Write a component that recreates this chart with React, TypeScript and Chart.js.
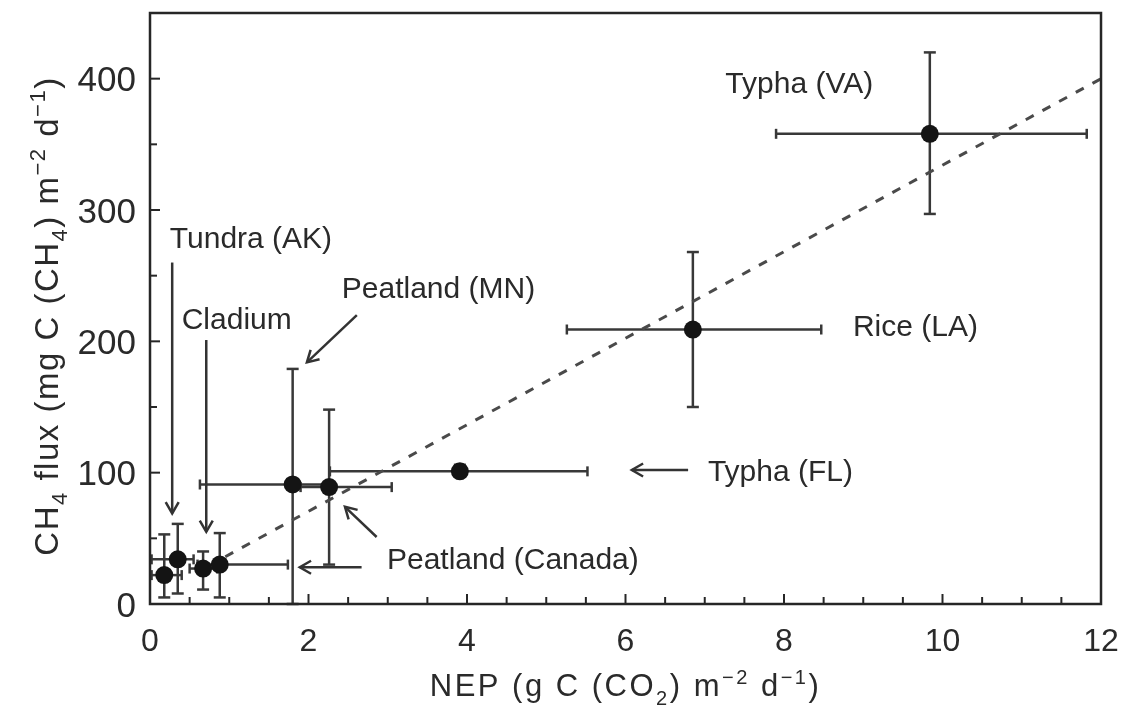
import React, { useEffect, useRef } from 'react';
import { Chart, registerables } from 'chart.js';

Chart.register(...registerables);

// ---- Data ----
const siteNames = [
  'Tundra (AK) 1',
  'Tundra (AK) 2',
  'Cladium 1',
  'Cladium 2',
  'Peatland (MN)',
  'Peatland (Canada)',
  'Typha (FL)',
  'Rice (LA)',
  'Typha (VA)',
];
const nepValues = [0.18, 0.35, 0.67, 0.88, 1.8, 2.26, 3.91, 6.85, 9.84];
const nepLow = [0.02, 0.02, 0.5, 0.6, 0.63, 1.9, 2.27, 5.26, 7.9];
const nepHigh = [0.4, 0.55, 0.85, 1.74, 2.3, 3.05, 5.52, 8.47, 11.82];
const ch4Values = [22, 34, 27, 30, 91, 89, 101, 209, 358];
const ch4Low = [5, 8, 11, 5, 0, 30, 97, 150, 297];
const ch4High = [53, 61, 40, 54, 179, 148, 106, 268, 420];

// dashed regression line end points
const fitLineX = [0.95, 12];
const fitLineY = [36, 400];

// axis ticks
const xTickValues = [0, 2, 4, 6, 8, 10, 12];
const xTickLabels = ['0', '2', '4', '6', '8', '10', '12'];
const yTickValues = [0, 100, 200, 300, 400];
const yTickLabels = ['0', '100', '200', '300', '400'];

// annotation texts (data coordinates of left edge / vertical middle)
const noteTexts = ['Typha (VA)', 'Rice (LA)', 'Typha (FL)', 'Tundra (AK)', 'Cladium', 'Peatland (MN)', 'Peatland (Canada)'];
const noteX = [7.26, 8.87, 7.04, 0.25, 0.4, 2.42, 2.99];
const noteY = [395, 210, 100, 277, 216, 239, 33];

// annotation arrows (tail -> head), data coordinates
const arrowFromX = [0.28, 0.71, 2.61, 6.79, 2.86, 2.67];
const arrowFromY = [260, 201, 220, 102, 51, 28];
const arrowToX = [0.28, 0.71, 1.98, 6.08, 2.46, 1.89];
const arrowToY = [69, 55, 184, 102, 74, 28];

const FONT = '"Liberation Sans", Arial, Helvetica, sans-serif';
const INK = '#2a2a2a';

type Seg = { t: string; k: 'n' | 'sub' | 'sup' };

const xTitle: Seg[] = [
  { t: 'NEP (g C (CO', k: 'n' },
  { t: '2', k: 'sub' },
  { t: ') m', k: 'n' },
  { t: '\u22122', k: 'sup' },
  { t: ' d', k: 'n' },
  { t: '\u22121', k: 'sup' },
  { t: ')', k: 'n' },
];
const yTitle: Seg[] = [
  { t: 'CH', k: 'n' },
  { t: '4', k: 'sub' },
  { t: ' flux (mg C (CH', k: 'n' },
  { t: '4', k: 'sub' },
  { t: ') m', k: 'n' },
  { t: '\u22122', k: 'sup' },
  { t: ' d', k: 'n' },
  { t: '\u22121', k: 'sup' },
  { t: ')', k: 'n' },
];

function setSpacing(ctx: any, px: number) {
  if ('letterSpacing' in ctx) ctx.letterSpacing = px + 'px';
}

function drawRich(ctx: CanvasRenderingContext2D, segs: Seg[], cx: number, baseline: number, size: number, spacing: number) {
  const small = Math.round(size * 0.66);
  const fontFor = (k: string) => `${k === 'n' ? size : small}px ${FONT}`;
  setSpacing(ctx, spacing);
  let total = 0;
  const widths: number[] = [];
  for (const s of segs) {
    ctx.font = fontFor(s.k);
    const w = ctx.measureText(s.t).width;
    widths.push(w);
    total += w;
  }
  let x = cx - total / 2;
  ctx.textAlign = 'left';
  ctx.textBaseline = 'alphabetic';
  segs.forEach((s, i) => {
    ctx.font = fontFor(s.k);
    const dy = s.k === 'sub' ? size * 0.28 : s.k === 'sup' ? -size * 0.4 : 0;
    ctx.fillText(s.t, x, baseline + dy);
    x += widths[i];
  });
  setSpacing(ctx, 0);
}

function line(ctx: CanvasRenderingContext2D, x1: number, y1: number, x2: number, y2: number) {
  ctx.beginPath();
  ctx.moveTo(x1, y1);
  ctx.lineTo(x2, y2);
  ctx.stroke();
}

const errorBarPlugin = {
  id: 'errorBars',
  beforeDatasetsDraw(chart: any) {
    const { ctx } = chart;
    const xs = chart.scales.x;
    const ys = chart.scales.y;
    ctx.save();
    ctx.strokeStyle = '#383838';
    ctx.lineWidth = 2.5;
    ctx.lineCap = 'butt';
    for (let i = 0; i < nepValues.length; i++) {
      const px = xs.getPixelForValue(nepValues[i]);
      const py = ys.getPixelForValue(ch4Values[i]);
      const xl = xs.getPixelForValue(nepLow[i]);
      const xr = xs.getPixelForValue(nepHigh[i]);
      line(ctx, xl, py, xr, py);
      line(ctx, xl, py - 5, xl, py + 5);
      line(ctx, xr, py - 5, xr, py + 5);
      const yt = ys.getPixelForValue(ch4High[i]);
      const yb = ys.getPixelForValue(ch4Low[i]);
      line(ctx, px, yt, px, yb);
      line(ctx, px - 6, yt, px + 6, yt);
      line(ctx, px - 6, yb, px + 6, yb);
    }
    ctx.restore();
  },
};

const decorPlugin = {
  id: 'decor',
  afterDatasetsDraw(chart: any) {
    const { ctx, chartArea } = chart;
    const xs = chart.scales.x;
    const ys = chart.scales.y;
    const { left, right, top, bottom } = chartArea;
    ctx.save();

    // frame
    ctx.strokeStyle = '#262626';
    ctx.lineWidth = 2.5;
    ctx.strokeRect(left, top, right - left, bottom - top);

    // ticks (inward)
    ctx.lineWidth = 2;
    xs.ticks.forEach((t: any) => {
      const px = xs.getPixelForValue(t.value);
      const len = xTickValues.includes(t.value) ? 10 : 7;
      line(ctx, px, bottom, px, bottom - len);
    });
    ys.ticks.forEach((t: any) => {
      const py = ys.getPixelForValue(t.value);
      const len = yTickValues.includes(t.value) ? 10 : 7;
      line(ctx, left, py, left + len, py);
    });

    // tick labels
    ctx.fillStyle = INK;
    ctx.font = `35px ${FONT}`;
    ctx.textAlign = 'right';
    ctx.textBaseline = 'alphabetic';
    yTickValues.forEach((v, i) => {
      ctx.fillText(yTickLabels[i], left - 14, ys.getPixelForValue(v) + 12.5);
    });
    ctx.font = `32px ${FONT}`;
    ctx.textAlign = 'center';
    xTickValues.forEach((v, i) => {
      ctx.fillText(xTickLabels[i], xs.getPixelForValue(v), bottom + 47);
    });

    // axis titles
    drawRich(ctx, xTitle, (left + right) / 2, bottom + 92, 31, 2.5);
    ctx.save();
    ctx.translate(58, 316);
    ctx.rotate(-Math.PI / 2);
    drawRich(ctx, yTitle, 0, 0, 33, 1.5);
    ctx.restore();

    // annotation texts
    ctx.font = `30px ${FONT}`;
    ctx.textAlign = 'left';
    ctx.textBaseline = 'middle';
    noteTexts.forEach((txt, i) => {
      ctx.fillText(txt, xs.getPixelForValue(noteX[i]), ys.getPixelForValue(noteY[i]));
    });

    // arrows
    ctx.strokeStyle = '#333';
    ctx.lineWidth = 2.5;
    for (let i = 0; i < arrowFromX.length; i++) {
      const x1 = xs.getPixelForValue(arrowFromX[i]);
      const y1 = ys.getPixelForValue(arrowFromY[i]);
      const x2 = xs.getPixelForValue(arrowToX[i]);
      const y2 = ys.getPixelForValue(arrowToY[i]);
      line(ctx, x1, y1, x2, y2);
      const ang = Math.atan2(y2 - y1, x2 - x1);
      const hl = 13;
      const ha = Math.PI / 6;
      ctx.beginPath();
      ctx.moveTo(x2 - hl * Math.cos(ang - ha), y2 - hl * Math.sin(ang - ha));
      ctx.lineTo(x2, y2);
      ctx.lineTo(x2 - hl * Math.cos(ang + ha), y2 - hl * Math.sin(ang + ha));
      ctx.stroke();
    }
    ctx.restore();
  },
};

export default function App() {
  const canvasRef = useRef<HTMLCanvasElement | null>(null);

  useEffect(() => {
    if (!canvasRef.current) return;
    const chart = new Chart(canvasRef.current, {
      type: 'scatter',
      data: {
        datasets: [
          {
            type: 'line',
            label: 'fit',
            data: fitLineX.map((x, i) => ({ x, y: fitLineY[i] })),
            showLine: true,
            borderColor: '#4a4a4a',
            borderWidth: 3,
            borderDash: [9, 10],
            pointRadius: 0,
            fill: false,
            order: 2,
          } as any,
          {
            type: 'scatter',
            label: 'sites',
            data: nepValues.map((x, i) => ({ x, y: ch4Values[i], name: siteNames[i] })),
            pointRadius: 9,
            pointHoverRadius: 9,
            pointBackgroundColor: '#141414',
            pointBorderWidth: 0,
            order: 1,
          } as any,
        ],
      },
      options: {
        responsive: false,
        animation: false,
        events: [],
        layout: { padding: { top: 13, right: 23, left: 0, bottom: 0 } },
        plugins: { legend: { display: false }, tooltip: { enabled: false } },
        scales: {
          x: {
            type: 'linear',
            min: 0,
            max: 12,
            ticks: { display: false, stepSize: 0.5 },
            grid: { display: false, drawTicks: false },
            border: { display: false },
            afterFit: (s: any) => {
              s.height = 103;
            },
          },
          y: {
            type: 'linear',
            min: 0,
            max: 450,
            ticks: { display: false, stepSize: 50 },
            grid: { display: false, drawTicks: false },
            border: { display: false },
            afterFit: (s: any) => {
              s.width = 150;
            },
          },
        },
      },
      plugins: [errorBarPlugin, decorPlugin],
    });
    return () => chart.destroy();
  }, []);

  return (
    <div style={{ position: 'fixed', left: 0, top: 0, width: 1124, height: 707, background: '#fff' }}>
      <canvas ref={canvasRef} width={1124} height={707} style={{ display: 'block' }} />
    </div>
  );
}
